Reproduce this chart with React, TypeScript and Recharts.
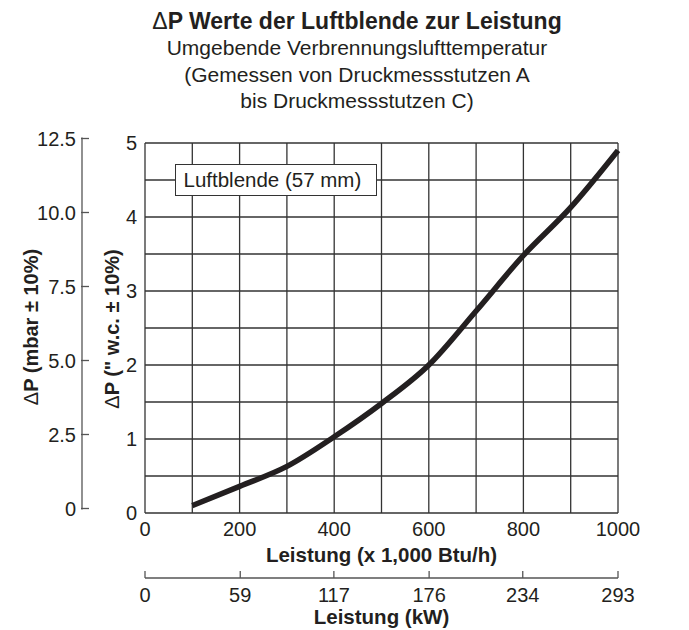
import React from 'react';
import { LineChart, Line, XAxis, YAxis, ReferenceLine, Legend } from 'recharts';

// ---- data ----
const leistungKBtu = [100, 200, 300, 400, 500, 600, 700, 800, 900, 1000];
const deltaPwc = [0.1, 0.36, 0.63, 1.03, 1.48, 2.0, 2.73, 3.48, 4.13, 4.9];
const btuTicks = [0, 200, 400, 600, 800, 1000];
const kwTicks = [0, 59, 117, 176, 234, 293];
const wcTicks = [0, 1, 2, 3, 4, 5];
const mbarTicks = [0, 2.5, 5, 7.5, 10, 12.5];
const mbarLabels = ['0', '2.5', '5.0', '7.5', '10.0', '12.5'];
const gridX = [0, 100, 200, 300, 400, 500, 600, 700, 800, 900, 1000];
const gridY = [0, 0.5, 1, 1.5, 2, 2.5, 3, 3.5, 4, 4.5, 5];
const seriesName = 'Luftblende (57 mm)';
const titleBold = 'P Werte der Luftblende zur Leistung';
const subtitleLines = [
  'Umgebende Verbrennungslufttemperatur',
  '(Gemessen von Druckmessstutzen A',
  'bis Druckmessstutzen C)',
];
const xTitleBtu = 'Leistung (x 1,000 Btu/h)';
const xTitleKw = 'Leistung (kW)';
const yTitleWc = 'P (" w.c. ± 10%)';
const yTitleMbar = 'P (mbar ± 10%)';

const data = leistungKBtu.map((x, i) => ({ kbtu: x, dp: deltaPwc[i] }));

const INK = '#231f20';
const GRID = '#333333';
const AXIS = '#555555';
const FONT = '"Liberation Sans", Arial, Helvetica, sans-serif';
const TICK_FS = 20;
const TITLE_FS = 20.5;

const MbarTick = (props: any) => {
  const { x, y, payload } = props;
  const yy = y - 4.5;
  const i = mbarTicks.indexOf(payload.value);
  return (
    <g>
      <line x1={x - 1} y1={yy} x2={x + 7} y2={yy} stroke={AXIS} strokeWidth={1.3} />
      <text x={x - 6} y={yy} dy="0.36em" textAnchor="end" fontSize={TICK_FS} fill={INK}>
        {i >= 0 ? mbarLabels[i] : String(payload.value)}
      </text>
    </g>
  );
};

const KwTick = (props: any) => {
  const { x, y, payload } = props;
  return (
    <g>
      <line x1={x} y1={y} x2={x} y2={y - 7} stroke={AXIS} strokeWidth={1.3} />
      <text x={x} y={y + 24} textAnchor="middle" fontSize={TICK_FS} fill={INK}>
        {payload.value}
      </text>
    </g>
  );
};

const LegendBox = (props: any) => {
  const p = props.payload && props.payload[0];
  return (
    <div
      style={{
        border: `1.5px solid ${GRID}`,
        background: '#fff',
        width: 202,
        height: 32,
        boxSizing: 'border-box',
        paddingLeft: 7.5,
        lineHeight: '29px',
        fontSize: 20.5,
        color: INK,
        whiteSpace: 'nowrap',
        fontFamily: FONT,
      }}
    >
      {p ? p.value : seriesName}
    </div>
  );
};

export default function App() {
  return (
    <div
      style={{
        position: 'absolute',
        left: 0,
        top: 0,
        width: 689,
        height: 630,
        background: '#ffffff',
        fontFamily: FONT,
        color: INK,
      }}
    >
      <svg
        width={689}
        height={140}
        style={{ position: 'absolute', left: 0, top: 0, zIndex: 2, fontFamily: FONT }}
      >
        <text x={357} y={28.5} textAnchor="middle" fontSize={23} fontWeight={700} fill={INK}>
          <tspan fontWeight={400}>Δ</tspan>
          {titleBold}
        </text>
        {subtitleLines.map((t, i) => (
          <text key={t} x={357} y={55 + i * 26.5} textAnchor="middle" fontSize={21} fill={INK}>
            {t}
          </text>
        ))}
      </svg>
      <LineChart
        width={689}
        height={630}
        data={data}
        margin={{ top: 143, right: 71, bottom: 0, left: 0 }}
      >
        <XAxis
          xAxisId="btu"
          dataKey="kbtu"
          type="number"
          domain={[0, 1000]}
          ticks={btuTicks}
          interval={0}
          tickLine={false}
          axisLine={false}
          tickSize={0}
          tickMargin={9}
          height={65}
          tick={{ fontSize: TICK_FS, fill: INK }}
          label={{
            content: (p: any) => {
              const vb = p.viewBox;
              return (
                <text
                  x={vb.x + vb.width / 2}
                  y={vb.y + 49}
                  textAnchor="middle"
                  fontSize={TITLE_FS}
                  fontWeight={700}
                  fill={INK}
                >
                  {xTitleBtu}
                </text>
              );
            },
          }}
        />
        <XAxis
          xAxisId="kw"
          dataKey="kw"
          type="number"
          domain={[0, 293]}
          allowDataOverflow
          ticks={kwTicks}
          interval={0}
          tickLine={false}
          tickSize={0}
          tickMargin={0}
          axisLine={{ stroke: AXIS, strokeWidth: 1.3 }}
          height={52}
          tick={<KwTick />}
          label={{
            content: (p: any) => {
              const vb = p.viewBox;
              return (
                <text
                  x={vb.x + vb.width / 2}
                  y={vb.y + 46}
                  textAnchor="middle"
                  fontSize={TITLE_FS}
                  fontWeight={700}
                  fill={INK}
                >
                  {xTitleKw}
                </text>
              );
            },
          }}
        />
        <YAxis
          yAxisId="y2mbar"
          dataKey="mbar"
          type="number"
          domain={[0, 12.5]}
          allowDataOverflow
          ticks={mbarTicks}
          interval={0}
          tickLine={false}
          axisLine={false}
          tickSize={0}
          tickMargin={0}
          width={82}
          tick={<MbarTick />}
          label={{
            content: (p: any) => {
              const vb = p.viewBox;
              const lx = vb.x + vb.width;
              const cx = vb.x + 31;
              const cy = vb.y + vb.height / 2 - 1;
              return (
                <g>
                  <line
                    x1={lx}
                    y1={vb.y - 5.4}
                    x2={lx}
                    y2={vb.y + vb.height - 3.4}
                    stroke={AXIS}
                    strokeWidth={1.3}
                  />
                  <text
                    x={cx}
                    y={cy}
                    transform={`rotate(-90 ${cx} ${cy})`}
                    textAnchor="middle"
                    dominantBaseline="central"
                    fontSize={20}
                    fontWeight={700}
                    fill={INK}
                  >
                    <tspan fontWeight={400}>Δ</tspan>
                    {yTitleMbar}
                  </text>
                </g>
              );
            },
          }}
        />
        <YAxis
          yAxisId="y1wc"
          type="number"
          domain={[0, 5]}
          ticks={wcTicks}
          interval={0}
          tickLine={false}
          axisLine={false}
          tickSize={0}
          tickMargin={8}
          width={63}
          tick={{ fontSize: TICK_FS, fill: INK }}
          label={{
            content: (p: any) => {
              const vb = p.viewBox;
              const cx = vb.x + 30;
              const cy = vb.y + vb.height / 2 + 1;
              return (
                <text
                  x={cx}
                  y={cy}
                  transform={`rotate(-90 ${cx} ${cy})`}
                  textAnchor="middle"
                  dominantBaseline="central"
                  fontSize={20}
                  fontWeight={700}
                  fill={INK}
                >
                  <tspan fontWeight={400}>Δ</tspan>
                  {yTitleWc}
                </text>
              );
            },
          }}
        />
        {gridX.map((v) => (
          <ReferenceLine
            key={'gx' + v}
            xAxisId="btu"
            yAxisId="y1wc"
            x={v}
            stroke={GRID}
            strokeWidth={1.3}
            ifOverflow="visible"
          />
        ))}
        {gridY.map((v) => (
          <ReferenceLine
            key={'gy' + v}
            xAxisId="btu"
            yAxisId="y1wc"
            y={v}
            stroke={GRID}
            strokeWidth={1.3}
            ifOverflow="visible"
          />
        ))}
        <Legend
          layout="horizontal"
          verticalAlign="middle"
          align="center"
          content={<LegendBox />}
          wrapperStyle={{ left: 175, top: 164, width: 202, height: 32 }}
        />
        <Line
          xAxisId="btu"
          yAxisId="y1wc"
          name={seriesName}
          dataKey="dp"
          type="monotone"
          stroke={INK}
          strokeWidth={5.5}
          strokeLinecap="butt"
          dot={false}
          activeDot={false}
          isAnimationActive={false}
        />
      </LineChart>
    </div>
  );
}
